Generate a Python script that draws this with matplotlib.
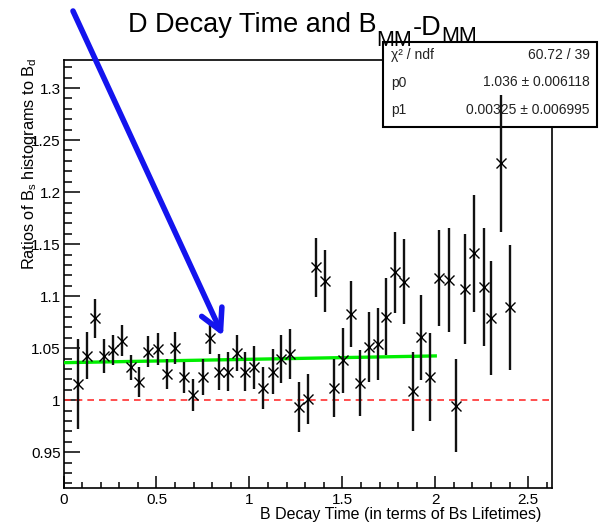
import matplotlib
matplotlib.use("Agg")
import matplotlib.pyplot as plt
from matplotlib.patches import Rectangle
from matplotlib.ticker import MultipleLocator

plt.rcParams['font.family'] = ['Liberation Sans', 'DejaVu Sans']
plt.rcParams['mathtext.fontset'] = 'custom'
plt.rcParams['mathtext.rm'] = 'Liberation Sans'
plt.rcParams['mathtext.default'] = 'rm'

# ratio per bin of B decay time
bin_x = [0.080, 0.128, 0.170, 0.216, 0.265, 0.315, 0.364, 0.408, 0.457, 0.507,
         0.556, 0.600, 0.649, 0.699, 0.748, 0.789, 0.837, 0.884, 0.933, 0.977,
         1.026, 1.073, 1.125, 1.168, 1.216, 1.267, 1.315, 1.356, 1.405, 1.455,
         1.504, 1.547, 1.595, 1.645, 1.694, 1.733, 1.781, 1.832, 1.882, 1.925,
         1.974, 2.022, 2.072, 2.114, 2.162, 2.211, 2.261, 2.302, 2.351, 2.401]
ratio = [1.0157, 1.0426, 1.0788, 1.0426, 1.0484, 1.0573, 1.0317, 1.0173, 1.0467, 1.0493,
         1.0250, 1.0500, 1.0218, 1.0050, 1.0221, 1.0596, 1.0269, 1.0275, 1.0452, 1.0275,
         1.0317, 1.0115, 1.0275, 1.0394, 1.0442, 0.9933, 1.0010, 1.1279, 1.1147, 1.0115,
         1.0381, 1.0827, 1.0163, 1.0515, 1.0541, 1.0804, 1.1230, 1.1140, 1.0083, 1.0606,
         1.0221, 1.1173, 1.1157, 0.9948, 1.1070, 1.1413, 1.1086, 1.0788, 1.2279, 1.0894]
ratio_err = [0.043, 0.0225, 0.0188, 0.0163, 0.0144, 0.0149, 0.012, 0.0144, 0.0152, 0.0152,
             0.0147, 0.0152, 0.0152, 0.0155, 0.0176, 0.0157, 0.0176, 0.0184, 0.0176, 0.0184,
             0.0208, 0.0204, 0.0216, 0.0232, 0.024, 0.0237, 0.0243, 0.0284, 0.0298, 0.0277,
             0.031, 0.032, 0.032, 0.0337, 0.0344, 0.0372, 0.039, 0.0412, 0.038, 0.0409,
             0.042, 0.0462, 0.0499, 0.0445, 0.0529, 0.0563, 0.0566, 0.0551, 0.0658, 0.0601]

# linear fit p0 + p1*x over [0, 2]
p0, p0_err = 1.036, 0.006118
p1, p1_err = 0.00325, 0.006995
chi2, ndf = 60.72, 39
fit_range = [0.0, 2.0]

W, H = 601, 525
fig = plt.figure(figsize=(W / 100, H / 100), dpi=100)
ax = fig.add_axes([63.5 / W, 1 - 487.5 / H, (552 - 63.5) / W, (487.5 - 60) / H])

ax.errorbar(bin_x, ratio, yerr=ratio_err, fmt='x', color='black', ecolor='#111111',
            elinewidth=1.7, markersize=7, mew=1.0, capsize=0, zorder=3)
ax.plot(fit_range, [p0 + p1 * x for x in fit_range], color='#00ee00', lw=2.4, zorder=2.8)
ax.axhline(1.0, color='#ff3030', lw=1.2, ls=(0, (4, 3)), zorder=2)

ax.set_xlim(0, 2.628)
ax.set_ylim(0.916, 1.327)
ax.xaxis.set_major_locator(MultipleLocator(0.5))
ax.xaxis.set_minor_locator(MultipleLocator(0.1))
ax.yaxis.set_major_locator(MultipleLocator(0.05))
ax.yaxis.set_minor_locator(MultipleLocator(0.01))
ax.xaxis.set_major_formatter(plt.FuncFormatter(lambda v, p: f'{v:g}'))
ax.yaxis.set_major_formatter(plt.FuncFormatter(lambda v, p: f'{v:g}'))
ax.tick_params(axis='x', which='major', direction='in', length=8.6, width=1.1, labelsize=11, pad=4)
ax.tick_params(axis='x', which='minor', direction='in', length=4.3, width=1.1)
ax.tick_params(axis='y', which='major', direction='in', length=11.5, width=1.1, labelsize=11, pad=2)
ax.tick_params(axis='y', which='minor', direction='in', length=5.8, width=1.1)
for s in ax.spines.values():
    s.set_linewidth(1.2)

# stats box
ax.add_patch(Rectangle((382.7 / W, 1 - 127.3 / H), (597 - 382.7) / W, (127.3 - 41.7) / H,
                       transform=fig.transFigure, clip_on=False, facecolor='white',
                       edgecolor='black', lw=1.5, zorder=2.7))
rows = [('χ² / ndf', f'{chi2:.2f} / {ndf}'),
        ('p0', f'{p0} ± {p0_err}'),
        ('p1', f'{p1} ± {p1_err}')]
for i, (name, val) in enumerate(rows):
    yy = 1 - (55 + i * 27.5) / H
    fig.text(391 / W, yy, name, fontsize=10, ha='left', va='center', color='#222222', zorder=5)
    fig.text(590 / W, yy, val, fontsize=10, ha='right', va='center', color='#222222', zorder=5)

# title built from pieces so the subscripts can be large, ROOT style
def title_piece(txt, prev, base_px, size):
    return ax.annotate(txt, xy=(1, 1 - base_px / H), xycoords=(prev, 'figure fraction'),
                       fontsize=size, ha='left', va='baseline',
                       annotation_clip=False, zorder=5)

t = fig.text(128 / W, 1 - 32 / H, 'D Decay Time and B', fontsize=19.5,
             ha='left', va='baseline', zorder=5)
s1 = title_piece('MM', t, 46, 15.5)
t2 = title_piece('-D', s1, 35, 19.5)
title_piece('MM', t2, 42, 15.5)

fig.text(541 / W, 1 - 515 / H, 'B Decay Time (in terms of Bs Lifetimes)', fontsize=11.5,
         ha='right', va='center')
fig.text(30 / W, 1 - 57 / H, r'Ratios of B$_s$ histograms to B$_d$', fontsize=11.8,
         rotation=90, ha='center', va='top')

# blue arrow pointing at the flat region
ax.annotate('', xy=(223 / W, 1 - 336 / H), xycoords='figure fraction',
            xytext=(73 / W, 1 - 11 / H), textcoords='figure fraction',
            arrowprops=dict(arrowstyle='->,head_length=1.5,head_width=0.8',
                            color='#1414ee', lw=4.0, mutation_scale=10,
                            shrinkA=0, shrinkB=0),
            annotation_clip=False, zorder=6)

fig.savefig('out.png', dpi=100)
